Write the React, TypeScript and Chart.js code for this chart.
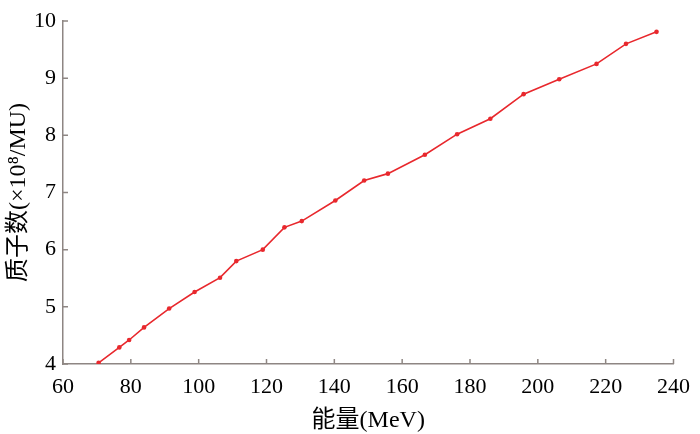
import React, { useEffect, useRef } from 'react';
import { Chart, registerables } from 'chart.js';

Chart.register(...registerables);

const energyMeV = [70.5, 76.6, 79.5, 83.9, 91.3, 98.8, 106.3, 111.1, 118.9, 125.3, 130.4, 140.3, 148.8, 155.8, 166.7, 176.2, 186.0, 195.8, 206.3, 217.3, 226.0, 235.0];
const protonCount = [4.02, 4.29, 4.42, 4.64, 4.97, 5.26, 5.51, 5.80, 6.0, 6.39, 6.50, 6.86, 7.21, 7.33, 7.66, 8.02, 8.29, 8.72, 8.98, 9.25, 9.60, 9.81];
const xTicks = [60, 80, 100, 120, 140, 160, 180, 200, 220, 240];
const yTicks = [4, 5, 6, 7, 8, 9, 10];
const xTitle = '能量(MeV)';
const yTitle = '质子数(×10⁸/MU)';

const AXIS_COLOR = '#8e8683';
const LINE_COLOR = '#e8282d';
const FONT_FAMILY = "'Liberation Serif', 'Times New Roman', 'Noto Sans CJK SC', serif";

const inwardTicks = {
  id: 'inwardTicks',
  afterDatasetsDraw(chart: any) {
    const ctx = chart.ctx;
    const x = chart.scales.x;
    const y = chart.scales.y;
    const len = 5;
    ctx.save();
    ctx.strokeStyle = AXIS_COLOR;
    ctx.lineWidth = 1.5;
    ctx.beginPath();
    for (const v of xTicks) {
      const px = x.getPixelForValue(v);
      ctx.moveTo(px, y.bottom);
      ctx.lineTo(px, y.bottom - len);
    }
    for (const v of yTicks) {
      const py = y.getPixelForValue(v);
      ctx.moveTo(x.left, py);
      ctx.lineTo(x.left + len, py);
    }
    ctx.stroke();
    ctx.restore();
  },
};

export default function App() {
  const ref = useRef<HTMLCanvasElement | null>(null);

  useEffect(() => {
    document.body.style.margin = '0';
    const canvas = ref.current;
    if (!canvas) return;
    const chart = new Chart(canvas, {
      type: 'line',
      data: {
        datasets: [
          {
            data: energyMeV.map((e, i) => ({ x: e, y: protonCount[i] })),
            borderColor: LINE_COLOR,
            backgroundColor: LINE_COLOR,
            borderWidth: 1.6,
            pointRadius: 2.3,
            pointBorderWidth: 0,
            pointBackgroundColor: LINE_COLOR,
            tension: 0,
            fill: false,
          },
        ],
      },
      options: {
        animation: false,
        responsive: false,
        maintainAspectRatio: false,
        devicePixelRatio: 1,
        layout: { padding: { top: 21, right: 22, left: 0, bottom: 0 } },
        plugins: {
          legend: { display: false },
          tooltip: { enabled: false },
        },
        scales: {
          x: {
            type: 'linear',
            min: 60,
            max: 240,
            afterFit(scale: any) {
              scale.height = 70;
            },
            afterBuildTicks(scale: any) {
              scale.ticks = xTicks.map((v) => ({ value: v }));
            },
            grid: { display: true, drawOnChartArea: false, drawTicks: false },
            border: { display: true, color: AXIS_COLOR, width: 1.5 },
            ticks: {
              color: '#000',
              padding: 10,
              maxRotation: 0,
              autoSkip: false,
              font: { family: FONT_FAMILY, size: 22 },
            },
            title: {
              display: true,
              text: xTitle,
              color: '#000',
              padding: { top: 0, bottom: 0 },
              font: { family: FONT_FAMILY, size: 24, lineHeight: 1.1 },
            },
          },
          y: {
            type: 'linear',
            min: 4,
            max: 10,
            afterFit(scale: any) {
              scale.width = 63;
            },
            afterBuildTicks(scale: any) {
              scale.ticks = yTicks.map((v) => ({ value: v }));
            },
            grid: { display: true, drawOnChartArea: false, drawTicks: false },
            border: { display: true, color: AXIS_COLOR, width: 1.5 },
            ticks: {
              color: '#000',
              padding: 7,
              autoSkip: false,
              font: { family: FONT_FAMILY, size: 22 },
            },
            title: {
              display: true,
              text: yTitle,
              color: '#000',
              padding: { top: 4, bottom: 0 },
              font: { family: FONT_FAMILY, size: 24, lineHeight: 1.2 },
            },
          },
        },
      },
      plugins: [inwardTicks],
    });
    return () => chart.destroy();
  }, []);

  return (
    <div style={{ width: 700, height: 434, background: '#fff' }}>
      <canvas ref={ref} width={700} height={434} style={{ display: 'block' }} />
    </div>
  );
}
